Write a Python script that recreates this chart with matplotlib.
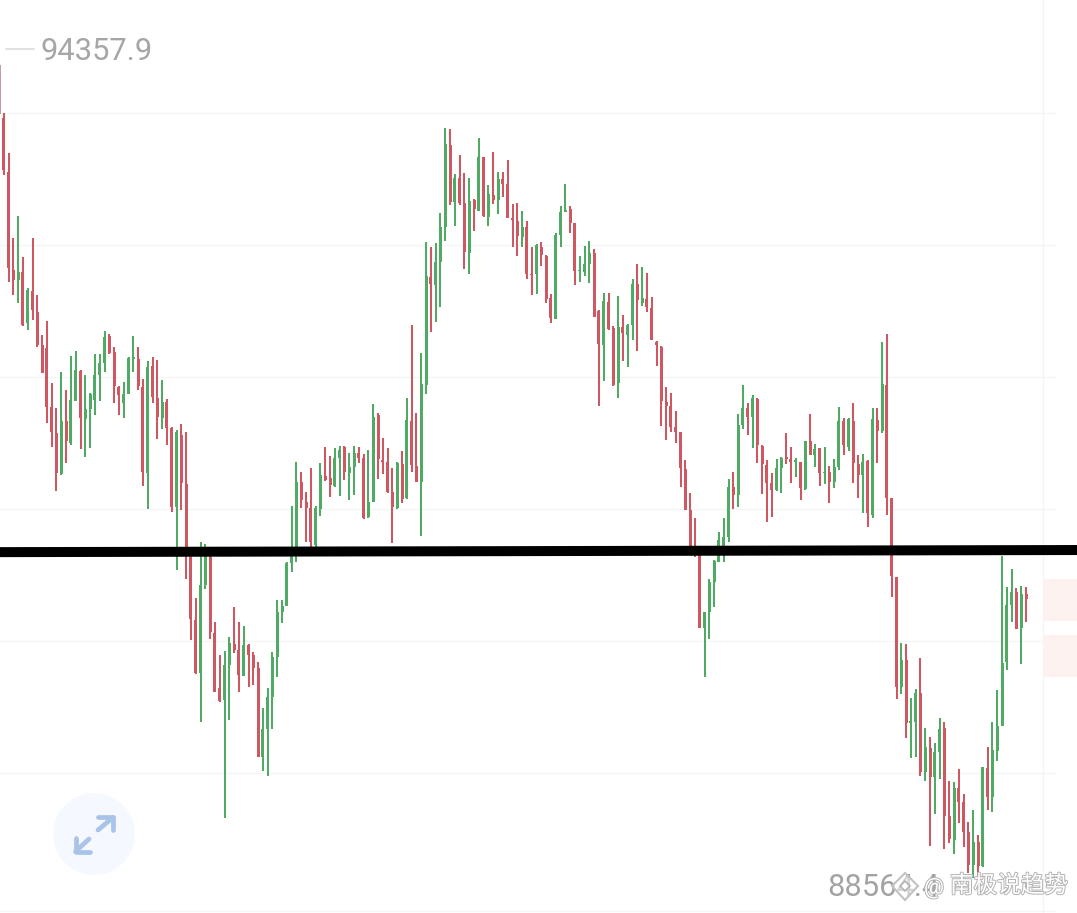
import matplotlib
matplotlib.use("Agg")
import matplotlib.pyplot as plt
import matplotlib.patheffects as pe
from matplotlib.patches import Circle, Rectangle, Polygon

highs = [
94358,93996,93712,93108,93264,92973,92753,93108,92704,92420,
92519,92079,91901,92157,92029,92270,92306,92171,92136,92008,
92285,92285,92448,92427,92334,92057,92086,92263,92412,92334,
92107,92235,92263,92242,92100,91965,91766,91745,91788,91731,
90893,90552,90950,90936,90914,90382,90147,90176,90275,90488,
90382,90353,90226,90169,90098,89771,89913,90169,90538,90538,
90808,91205,91518,91447,91305,91475,91205,91511,91624,91560,
91617,91631,91631,91582,91631,91624,91575,91603,91930,91866,
91688,91617,91475,91518,91596,91972,92491,91866,92292,93080,
93044,93073,93286,93889,93882,93563,93698,93570,93534,93385,
93818,93683,93485,93719,93577,93577,93662,93350,93357,93300,
93229,93044,93066,93080,92988,92711,93144,93335,93492,93335,
93215,92980,93051,93087,93030,92597,92718,92718,92483,92696,
92561,92498,92817,92924,92902,92860,92689,92377,92341,92050,
92008,91880,91731,91532,91298,91120,90872,90453,90687,90822,
91021,91120,91397,91447,91859,92064,91937,91993,91972,91638,
91532,91440,91539,91553,91724,91624,91546,91518,91667,91859,
91646,91617,91624,91489,91539,91908,91830,91830,91937,91567,
91575,91532,91901,91901,92370,92427,91262,90701,90233,90226,
89842,89906,90126,89629,89565,89523,89700,89672,89253,89246,
89338,89161,88962,89047,88870,89352,89494,89672,89899,90850,
90630,90758,90623,90637,90630]

body_tops = [
94340,93960,93577,92881,92867,92867,92739,92732,92583,92348,
92327,91908,91724,91809,91809,91958,92171,92164,91894,92001,
92136,92221,92405,92412,92299,92050,92001,92256,92263,92249,
92050,92192,92199,91972,91944,91944,91759,91731,91709,91362,
90843,90396,90644,90893,90843,90304,89913,90076,90233,90226,
90183,90218,90218,90147,90055,89622,89849,90133,90453,90495,
90801,90907,91376,91376,91234,91191,91191,91426,91418,91404,
91546,91603,91624,91482,91582,91582,91546,91234,91837,91852,
91532,91518,91305,91511,91504,91816,91809,91489,92072,92838,
92831,92938,93186,93776,93768,93534,93534,93357,93371,93378,
93683,93683,93421,93414,93527,93527,93492,93250,93229,93186,
93186,92853,93058,93044,92980,92682,93129,93293,93307,93314,
93215,92881,92924,93002,93002,92590,92661,92654,92469,92476,
92476,92491,92782,92782,92682,92675,92611,92370,92334,91944,
91915,91766,91731,91468,91177,90907,90857,90453,90666,90815,
90964,90985,91340,91340,91780,91901,91901,91972,91965,91631,
91496,91369,91475,91546,91553,91539,91532,91518,91667,91667,
91610,91617,91447,91447,91482,91809,91809,91823,91809,91504,
91518,91525,91823,91816,92072,92064,91262,90701,90112,90112,
89679,89878,89878,89494,89487,89459,89622,89629,89004,89203,
89203,89104,88891,88820,88820,89352,89345,89473,89643,90091,
90502,90595,90595,90581,90581]

body_bottoms = [
93990,93591,92895,92810,92810,92491,92505,92597,92348,92150,
91908,91731,91440,91433,91667,91653,91951,91830,91823,91894,
91958,92136,92221,92292,92057,91993,91937,92001,92249,92057,
91447,91440,91979,91837,91830,91759,91198,91198,91369,90857,
90403,90020,90020,90644,90311,89885,89821,89828,90076,90183,
90006,89998,90147,90055,89423,89423,89622,89849,90133,90453,
90495,90801,90907,91248,91191,90950,90928,91184,91390,91354,
91347,91546,91447,91440,91482,91546,91120,91127,91234,91539,
91518,91305,91198,91191,91255,91262,91496,91376,91376,92064,
92782,92774,92938,93186,93364,93364,93357,93009,93002,93314,
93300,93264,93257,93378,93378,93492,93250,93236,93122,93115,
92853,92845,92853,92988,92675,92540,92533,93129,93293,93215,
92874,92874,92867,92924,92547,92356,92348,92462,92064,92079,
92434,92420,92491,92668,92647,92618,92384,92348,91951,91915,
91766,91731,91475,91177,90914,90857,90339,90339,90453,90666,
90808,90872,90985,91283,91283,91780,91837,91837,91638,91504,
91369,91319,91319,91475,91539,91518,91518,91333,91326,91567,
91567,91440,91440,91376,91376,91482,91638,91624,91511,91426,
91426,91156,91142,91738,91738,91262,90708,89920,89920,89665,
89665,89672,89317,89317,89281,89281,89459,89004,88841,88834,
89104,88891,88657,88657,88649,88649,89139,89139,89466,89643,
90098,90502,90332,90339,90545]

lows = [
93981,93555,92796,92704,92647,92483,92455,92526,92334,92150,
91795,91624,91312,91426,91511,91638,91951,91610,91553,91617,
91852,91951,92157,92285,91937,91852,91830,92001,92157,92029,
91347,91184,91937,91681,91752,91638,91163,90751,91177,90687,
90254,90013,89672,90616,90261,89885,89814,88990,89686,90162,
89885,89998,89920,89934,89423,89324,89288,89622,89991,90375,
90495,90737,90808,91191,90950,90914,90907,91134,91383,91269,
91340,91276,91390,91248,91283,91511,91113,91120,91234,91397,
91433,91298,90943,91184,91227,91255,91447,91376,90992,92001,
92441,92512,92618,93087,93342,93193,93342,92888,92853,93158,
93300,93257,93193,93350,93279,93399,93250,93044,92980,93044,
92817,92704,92711,92909,92647,92505,92533,93044,93293,93144,
92774,92796,92838,92789,92547,91915,92093,92455,92057,91972,
92235,92192,92384,92306,92625,92583,92384,92199,91773,91674,
91731,91653,91340,91177,90900,90843,90339,89991,90261,90488,
90808,90808,90950,91184,91198,91752,91709,91617,91511,91291,
91092,91127,91312,91298,91504,91369,91411,91248,91319,91567,
91482,91347,91362,91227,91333,91461,91567,91596,91369,91262,
91156,91056,91120,91511,91724,91142,90559,89835,89871,89558,
89416,89423,89288,89253,88791,89019,89267,88770,88813,88735,
88955,88784,88600,88564,88564,88642,89047,89033,89395,89643,
90041,90382,90332,90084,90382]

directions = ("rrrrgrgrrr" "rrrgrggrgg" "gggrrrgggr" "rgrrgrrgrr" "rrggrrrggr"
              "rgrrrggggg" "gggrrrggrr" "ggrggrrggr" "rrrgrgrrgg" "rgggrgrrgr"
              "grgrgrrrrg" "rrgrrrgggr" "rgggrrgrrg" "rggrgrrrrr" "rrrrrrrggg"
              "gggrggrgrr" "rrggrrgrgr" "grgrggrgrr" "grgrgrrrgr" "ggrgrggrrg"
              "rrrgrgrggg" "ggrgr")

grid_prices = [93996, 93059, 92121, 91184, 90246, 89309, 88330]
max_label = "94357.9"
min_label = "88564.4"
level_line = [90878, 90893]

RED, GREEN = "#cf5762", "#4fab63"
W, H = 1077, 913
plt.rcParams["font.family"] = ["Roboto", "Noto Sans CJK SC", "DejaVu Sans"]

fig = plt.figure(figsize=(W / 100, H / 100), dpi=100, facecolor="white")
ax = fig.add_axes([0, 0, 1, 1])
PX = 4.8                      # pixels per candle
xl = (0 + 1.1) / PX
xr = (W + 1.1) / PX
ax.set_xlim(xl, xr)
ax.set_ylim(88316, 94798)
ax.axis("off")

ax.hlines(grid_prices, xl, (1055 + 1.1) / PX, color="#f4f5f5", lw=0.9, zorder=1)
ax.axvline((1043 + 1.1) / PX, color="#f3f3f3", lw=0.9, zorder=1)

xs = list(range(len(highs)))
colors = [RED if d == "r" else GREEN for d in directions]
widths = [0.95] + [0.6] * (len(xs) - 1)   # the first candle is clipped by the left edge
colors_first_muted = ["#c99aa0"] + colors[1:]
ax.vlines(xs, lows, highs, colors=colors_first_muted, lw=1.45, zorder=3)
ax.bar(xs, [t - b for t, b in zip(body_tops, body_bottoms)], bottom=body_bottoms,
       width=widths, color=colors_first_muted, linewidth=0, zorder=3)

ax.plot([xl, xr], level_line, color="black", lw=7.2, solid_capstyle="butt", zorder=5)

# Overlay in screen pixels for the chart furniture
ov = fig.add_axes([0, 0, 1, 1], facecolor="none")
ov.set_xlim(0, W)
ov.set_ylim(H, 0)
ov.axis("off")

for y0, y1 in [(579, 621), (635, 677)]:
    ov.add_patch(Rectangle((1043, y0), 34, y1 - y0, facecolor="#fdf2f0", edgecolor="none", zorder=1))

ov.plot([6, 34], [49.5, 49.5], color="#dcdcdc", lw=1.2)
ov.text(41, 52, max_label, color="#a6a6a6", fontsize=22.2, va="center", ha="left")
ov.text(827, 887, min_label, color="#a3a3a3", fontsize=22.2, va="center", ha="left", zorder=5)

# expand button
ov.add_patch(Circle((94, 834), 41, facecolor="#f5f9ff", edgecolor="none", zorder=5))
arrow = dict(color="#a9c4e8", lw=3.4, solid_capstyle="round", solid_joinstyle="round", zorder=6)
ov.plot([98, 113], [830, 817.5], **arrow)
ov.plot([98, 113, 113], [817.5, 817.5, 830], **arrow)
ov.plot([89, 75.5], [839, 851.5], **arrow)
ov.plot([75.5, 75.5, 90], [838, 852.5, 852.5], **arrow)

# watermark
halo = [pe.withStroke(linewidth=1.4, foreground="#b4b4b4")]
ov.add_patch(Polygon([(905, 873), (918, 886), (905, 900), (892, 886)], closed=True,
                     facecolor=(1, 1, 1, 0.55), edgecolor="#c2c2c2", lw=1.5, zorder=7))
ov.add_patch(Polygon([(905, 881), (910, 886), (905, 891), (900, 886)], closed=True,
                     facecolor=(1, 1, 1, 0.55), edgecolor="#b5b5b5", lw=1.2, zorder=7))
ov.text(934, 888, "@", color="white", fontsize=16, va="center", ha="center", path_effects=halo, zorder=8)
ov.text(950, 886, "南极说趋势", color="white", fontsize=17, va="center", ha="left",
        family=["Noto Sans CJK SC", "DejaVu Sans"], path_effects=halo, zorder=8)

fig.savefig("out.png", dpi=100)
